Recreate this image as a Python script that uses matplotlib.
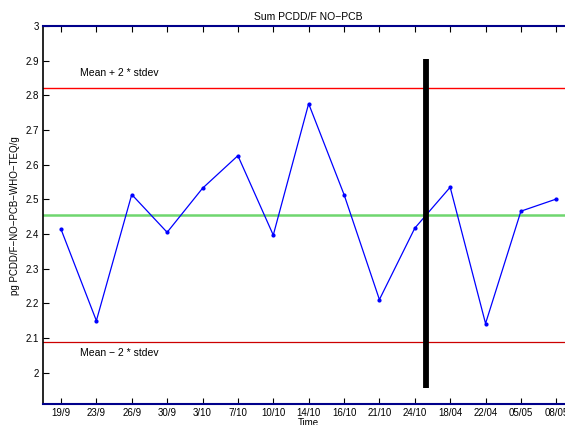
import matplotlib
matplotlib.use("Agg")
import matplotlib.pyplot as plt
import numpy as np

dates = ["19/9", "23/9", "26/9", "30/9", "3/10", "7/10", "10/10", "14/10",
         "16/10", "21/10", "24/10", "18/04", "22/04", "05/05", "08/05"]
values = [2.414, 2.150, 2.514, 2.405, 2.532, 2.626, 2.397, 2.776,
          2.514, 2.211, 2.417, 2.535, 2.142, 2.466, 2.501]
mean_val = 2.455
upper = 2.820
lower = 2.088
bar_x = 11.33
bar_range = [1.955, 2.905]
yticks = [2.0, 2.1, 2.2, 2.3, 2.4, 2.5, 2.6, 2.7, 2.8, 2.9, 3.0]
ytick_labels = ["2", "2.1", "2.2", "2.3", "2.4", "2.5", "2.6", "2.7", "2.8", "2.9", "3"]

plt.rcParams['font.family'] = ['Liberation Sans', 'DejaVu Sans']
fig = plt.figure(figsize=(5.65, 4.25), dpi=100)
ax = fig.add_axes([43.3/565, 20.7/425, (574-43.3)/565, (404.3-26)/425])

x = np.arange(1, len(values) + 1)
ax.axhline(mean_val, color='#6fd66f', lw=1.8, zorder=1)
ax.axhline(upper, color='red', lw=1.0, zorder=1)
ax.axhline(lower, color='#cc0000', lw=0.9, zorder=1)
ax.plot(x, values, '-', color='blue', lw=0.9, marker='o', ms=2.0, zorder=3)
ax.plot([bar_x, bar_x], bar_range, color='black', lw=4.2, solid_capstyle='butt', zorder=4)

ax.text(1.54, 2.864, "Mean + 2 * stdev", fontsize=7.5, va='center', ha='left')
ax.text(1.54, 2.057, "Mean \u2212 2 * stdev", fontsize=7.5, va='center', ha='left')

ax.set_xlim(0.5, 15.5)
ax.set_ylim(1.909, 3.0)
ax.set_xticks(x)
ax.set_xticklabels(dates)
ax.set_yticks(yticks)
ax.set_yticklabels(ytick_labels)
ax.tick_params(direction='in', length=4, width=0.8, labelsize=7, top=True, right=True, pad=3)

for s in ['top', 'bottom']:
    ax.spines[s].set_color('#00008b')
    ax.spines[s].set_linewidth(1.5)
ax.spines['left'].set_color('black')
ax.spines['left'].set_linewidth(1.2)

ax.set_title("Sum PCDD/F NO\u2212PCB", fontsize=7.5, pad=4)
ax.set_ylabel("pg PCDD/F\u2212NO\u2212PCB\u2212WHO\u2212TEQ/g", fontsize=7, labelpad=4)
ax.set_xlabel("Time", fontsize=7, labelpad=0)

fig.savefig("out.png", dpi=100)
